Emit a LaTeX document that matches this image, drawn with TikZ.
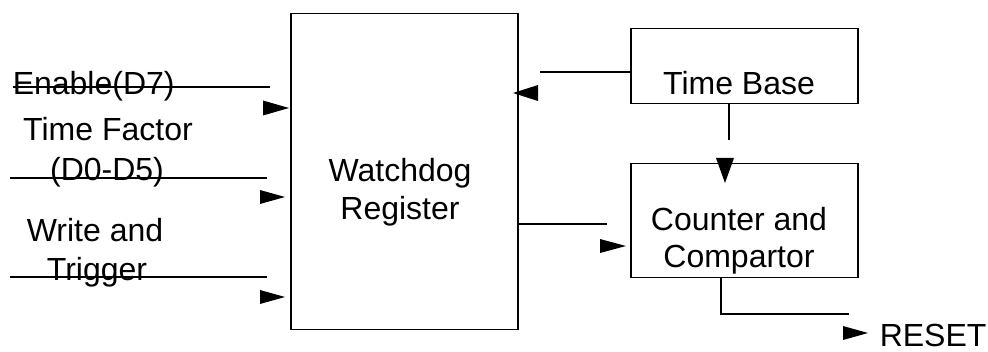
\documentclass[tikz,border=0pt]{standalone}
\usepackage{fontspec}
\setmainfont{Liberation Sans}
\begin{document}
\begin{tikzpicture}[x=1pt,y=-1pt,line width=1.5pt,
  blk/.style={draw, rectangle, inner sep=0, anchor=north west},
  lbl/.style={font=\fontsize{32}{38}\selectfont, inner sep=0, anchor=base},
  lblw/.style={lbl, anchor=base west},
  head/.style={fill=black, draw=none}]
\useasboundingbox (0,0) rectangle (988,352);
% blocks
\node[blk, minimum width=227pt, minimum height=316pt] (wd) at (290,13) {};
\node[blk, minimum width=227pt, minimum height=75pt] (tb) at (630,28) {};
\node[blk, minimum width=227pt, minimum height=114pt] (cc) at (630,163) {};
% labels
\node[lbl] (wd1) at (400,182) {Watchdog};
\node[lbl] (wd2) at (400,220) {Register};
\node[lbl] (tbl) at (739,95) {Time Base};
\node[lbl] (cc1) at (739,231) {Counter and};
\node[lbl] (cc2) at (739,268) {Compartor};
\node[lblw] (en) at (12,95) {Enable(D7)};
\node[lbl] (tf1) at (108,141) {Time Factor};
\node[lbl] (tf2) at (107,181) {(D0-D5)};
\node[lbl] (wt1) at (95,242) {Write and};
\node[lbl] (wt2) at (97,281) {Trigger};
\node[lblw] (rs) at (879,347) {RESET};
% free ends of connectors
\coordinate (a1s) at (13,87);  \coordinate (a1e) at (270,87);
\coordinate (a2s) at (10,178); \coordinate (a2e) at (267,178);
\coordinate (a3s) at (10,277); \coordinate (a3e) at (267,277);
\coordinate (tbe) at (540,72);
\coordinate (tde) at (729,140);
\coordinate (wce) at (607,224);
\coordinate (cob) at (721,314);
\coordinate (coe) at (849,314);
% connectors
\draw (a1s) -- (a1e);
\draw (a2s) -- (a2e);
\draw (a3s) -- (a3e);
\draw (tbe -| tb.west) -- (tbe);
\draw (tde |- tb.south) -- (tde);
\draw (wce -| wd.east) -- (wce);
\draw (cob |- cc.south) -- (cob) -- (coe);
% arrowheads (offset as in the original)
\fill[head] (289,108) -- (263,100.5) -- (263,115.5) -- cycle;
\fill[head] (285,197) -- (260,190) -- (260,204) -- cycle;
\fill[head] (285,297) -- (260,290) -- (260,304) -- cycle;
\fill[head] (513,93) -- (538,85) -- (538,101) -- cycle;
\fill[head] (725,183) -- (716,158) -- (734,158) -- cycle;
\fill[head] (626,246) -- (600,239) -- (600,253) -- cycle;
\fill[head] (868,333) -- (843,326) -- (843,340) -- cycle;
\end{tikzpicture}
\end{document}
